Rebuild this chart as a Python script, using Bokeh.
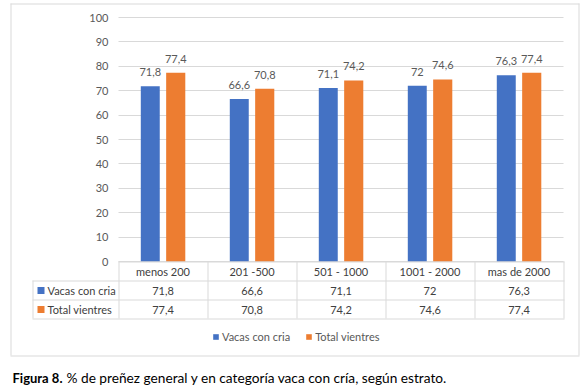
from bokeh.plotting import figure
from bokeh.models import (ColumnDataSource, Range1d, FixedTicker, Label,
                          BoxAnnotation, Legend, LegendItem)
from bokeh.transform import dodge
from bokeh.core.properties import value
from bokeh.embed import file_html
from bokeh.resources import INLINE

# ---------------- data ----------------
categories = ["menos 200", "201 -500", "501 - 1000", "1001 - 2000", "mas de 2000"]
vacas_con_cria = [71.8, 66.6, 71.1, 72, 76.3]
total_vientres = [77.4, 70.8, 74.2, 74.6, 77.4]
series_names = ["Vacas con cria", "Total vientres"]
y_ticks = [0, 10, 20, 30, 40, 50, 60, 70, 80, 90, 100]
caption_bold = "Figura 8."
caption_text = "% de preñez general y en categoría vaca con cría, según estrato."


def fmt(v):
    return f"{v:g}".replace(".", ",")


# ---------------- style / layout (pixels) ----------------
FONT = "Lato"
BLUE = "#4472C4"
ORANGE = "#ED7D31"
GRID = "#D9D9D9"
LABEL = "#595959"
DARK = "#404040"

W, H = 587, 391
PX_X0 = 118          # left edge of first category
COL = 89             # pixels per category
PX_Y0 = 261          # y = 0
PX_Y100 = 17         # y = 100
PPU = (PX_Y0 - PX_Y100) / 100.0
N = len(categories)


def dx(px):
    return (px - PX_X0) / COL


def dy(py):
    return (PX_Y0 - py) / PPU


xc = [i + 0.5 for i in range(N)]
src = ColumnDataSource(dict(
    xc=xc,
    cat=categories,
    vacas=vacas_con_cria,
    total=total_vientres,
    vacas_lbl=[fmt(v) for v in vacas_con_cria],
    total_lbl=[fmt(v) for v in total_vientres],
))

p = figure(x_range=Range1d(dx(0), dx(W)), y_range=Range1d(dy(H), dy(0)),
           width=W, height=H, output_backend="svg", toolbar_location=None,
           min_border=0, min_border_left=0, min_border_right=0,
           min_border_top=0, min_border_bottom=0)
p.outline_line_color = None
p.background_fill_color = "white"
p.border_fill_color = "white"

# y axis, drawn at the left edge of the category area
p.yaxis.fixed_location = 0
p.yaxis.ticker = FixedTicker(ticks=y_ticks)
p.yaxis.axis_line_color = None
p.yaxis.major_tick_line_color = None
p.yaxis.minor_tick_line_color = None
p.yaxis.major_tick_out = 0
p.yaxis.major_tick_in = 0
p.yaxis.major_label_standoff = 10
p.yaxis.major_label_text_font = FONT
p.yaxis.major_label_text_font_size = "11px"
p.yaxis.major_label_text_color = LABEL

p.xaxis.visible = False
p.xgrid.grid_line_color = None

use_grid = True
try:
    p.ygrid.cross_bounds = (0, N)
except Exception:
    use_grid = False
if use_grid:
    p.ygrid.grid_line_color = GRID
    p.ygrid.grid_line_width = 1
else:
    p.ygrid.grid_line_color = None
    p.segment(x0=[0] * len(y_ticks), x1=[N] * len(y_ticks), y0=y_ticks, y1=y_ticks,
              line_color=GRID, line_width=1, level="underlay")

# bars
off = 0.143
rb = p.vbar(x=dodge("xc", -off), top="vacas", width=0.213, bottom=0,
            source=src, fill_color=BLUE, line_color=None)
ro = p.vbar(x=dodge("xc", off), top="total", width=0.215, bottom=0,
            source=src, fill_color=ORANGE, line_color=None)

# data labels
for col, lbl, d in (("vacas", "vacas_lbl", -off), ("total", "total_lbl", off)):
    p.text(x=dodge("xc", d), y=col, text=lbl, source=src,
           text_align="center", text_baseline="middle", y_offset=-14,
           text_font=value(FONT), text_font_size="11px", text_color=LABEL)


# ---------- decorations in pixel coordinates ----------
def px_box(x0, y0, x1, y1, color):
    p.add_layout(BoxAnnotation(
        left=x0, right=x1, top=H - y0, bottom=H - y1,
        left_units="screen", right_units="screen",
        top_units="screen", bottom_units="screen",
        fill_color=color, fill_alpha=1, line_color=None, level="annotation"))


def px_label(x, y, text, color, size="11px", align="left", style="normal"):
    p.add_layout(Label(x=x, y=H - y, x_units="screen", y_units="screen",
                       text=text, text_font=FONT, text_font_size=size,
                       text_color=color, text_align=align, text_baseline="middle",
                       text_font_style=style, level="annotation"))


# chart border
BX0, BX1, BY0, BY1 = 10, 578, 3, 355
px_box(BX0, BY0, BX1 + 1, BY0 + 1, GRID)
px_box(BX0, BY1, BX1 + 1, BY1 + 1, GRID)
px_box(BX0, BY0, BX0 + 1, BY1, GRID)
px_box(BX1, BY0, BX1 + 1, BY1, GRID)

# data table
TL = 32
ROW = 19
rows_y = [PX_Y0, PX_Y0 + ROW, PX_Y0 + 2 * ROW, PX_Y0 + 3 * ROW]
RIGHT = PX_X0 + N * COL
px_box(PX_X0, rows_y[0], RIGHT + 1, rows_y[0] + 1, GRID)
for yy in rows_y[1:]:
    px_box(TL, yy, RIGHT + 1, yy + 1, GRID)
px_box(TL, rows_y[1], TL + 1, rows_y[3], GRID)
for i in range(N + 1):
    xx = PX_X0 + i * COL
    px_box(xx, rows_y[0], xx + 1, rows_y[3], GRID)

# header row (categories)
hy = dy(rows_y[0] + ROW / 2 + 0.5)
p.text(x="xc", y=hy, text="cat", source=src, text_align="center",
       text_baseline="middle", text_font=value(FONT), text_font_size="11px",
       text_color=DARK)

# value rows
for r, (name, col, color) in enumerate(((series_names[0], "vacas_lbl", BLUE),
                                        (series_names[1], "total_lbl", ORANGE))):
    cy = rows_y[r + 1] + ROW / 2 + 0.5
    px_box(37, cy - 3.5, 44, cy + 3.5, color)
    px_label(47, cy, name, DARK)
    p.text(x="xc", y=dy(cy), text=col, source=src, text_align="center",
           text_baseline="middle", text_font=value(FONT), text_font_size="11px",
           text_color=DARK)

# legend
legend = Legend(items=[LegendItem(label=series_names[0], renderers=[rb]),
                       LegendItem(label=series_names[1], renderers=[ro])],
                orientation="horizontal", location=(212, H - 343),
                glyph_width=7, glyph_height=7, label_standoff=3, spacing=15,
                padding=0, margin=0, border_line_color=None,
                background_fill_alpha=0, label_text_font=FONT,
                label_text_font_size="11px", label_text_color=LABEL,
                label_height=12)
p.add_layout(legend)

# caption
px_label(12, 377, caption_bold, "#000000", size="13px", style="bold")
px_label(66, 377, caption_text, "#000000", size="13.7px")

open("out.html", "w").write(file_html(p, INLINE))
